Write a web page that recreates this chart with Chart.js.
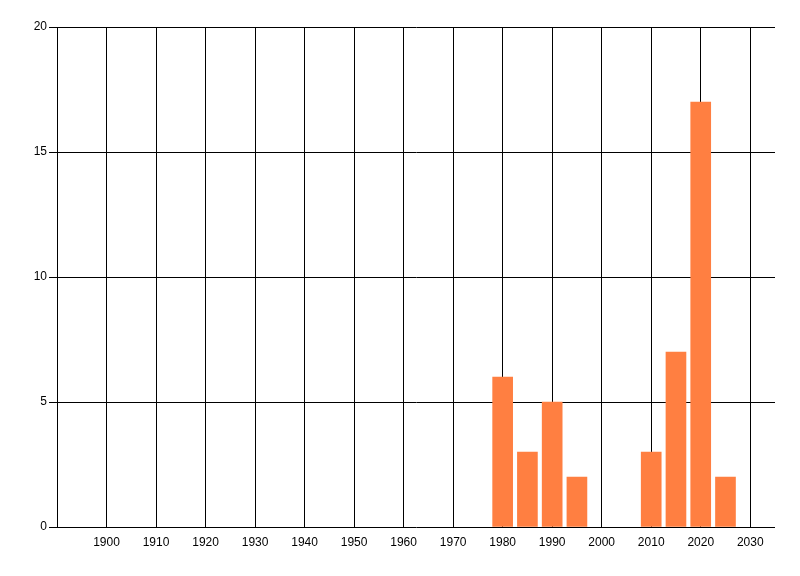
<!DOCTYPE html>
<html>
<head>
<meta charset="utf-8">
<script src="https://cdn.jsdelivr.net/npm/chart.js@4/dist/chart.umd.min.js"></script>
<style>
  html, body { margin: 0; padding: 0; background: #fff; }
  #wrap { width: 800px; height: 576px; }
</style>
</head>
<body>
<div id="wrap"><canvas id="barChart" width="800" height="576"></canvas></div>
<script>
// Data
const years = [1980, 1985, 1990, 1995, 2010, 2015, 2020, 2025];
const counts = [6, 3, 5, 2, 3, 7, 17, 2];
const xTicks = [1900, 1910, 1920, 1930, 1940, 1950, 1960, 1970, 1980, 1990, 2000, 2010, 2020, 2030];
const yTicks = [0, 5, 10, 15, 20];

const font = { family: 'Liberation Sans', size: 12 };

const ctx = document.getElementById('barChart').getContext('2d');
new Chart(ctx, {
    type: 'bar',
    data: {
        datasets: [{
            data: years.map((x, i) => ({ x: x, y: counts[i] })),
            backgroundColor: '#ff7f41',
            borderWidth: 0,
            barThickness: 20
        }]
    },
    options: {
        responsive: false,
        animation: false,
        layout: { padding: { top: 27, right: 25, bottom: 19, left: 0 } },
        plugins: { legend: { display: false }, tooltip: { enabled: false } },
        scales: {
            x: {
                type: 'linear',
                min: 1890,
                max: 2035,
                offset: false,
                afterBuildTicks: s => { s.ticks = xTicks.map(v => ({ value: v })); },
                afterFit: s => { s.height = 30; },
                grid: { color: '#000', lineWidth: 1, drawTicks: false, offset: false },
                border: { display: false },
                ticks: { color: '#000', font: font, padding: 8, maxRotation: 0, autoSkip: false,
                         callback: v => String(v) }
            },
            y: {
                min: 0,
                max: 20,
                afterBuildTicks: s => { s.ticks = yTicks.map(v => ({ value: v })); },
                afterFit: s => { s.width = 57; },
                grid: { color: '#000', lineWidth: 1, tickLength: 8, tickColor: '#000' },
                border: { color: '#000', width: 1 },
                ticks: { color: '#000', font: font, padding: 2 }
            }
        }
    }
});
</script>
</body>
</html>
